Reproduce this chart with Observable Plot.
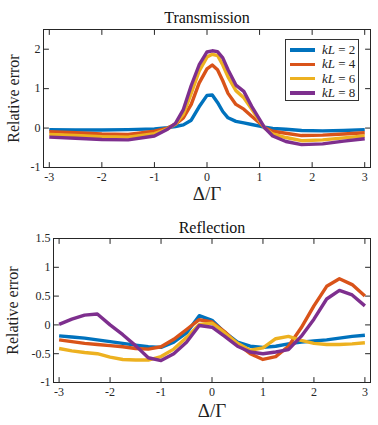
<!DOCTYPE html>
<html>
<head>
<meta charset="utf-8">
<script src="https://cdn.jsdelivr.net/npm/d3@7"></script>
<script src="https://cdn.jsdelivr.net/npm/@observablehq/plot@0.6"></script>
<style>
  body { margin: 0; background: #fff; }
  #wrap { position: relative; width: 378px; height: 425px; overflow: hidden; }
  #wrap svg { display: block; }
  #legend { position: absolute; left: 285px; top: 39px; width: 74px; height: 62px; border: 1px solid #333; background: #fff; box-sizing: border-box; }
  .row { position: absolute; left: 4px; height: 14px; display: flex; align-items: center; font-size: 13px; color: #222; }
  .sw { width: 25px; height: 3.5px; margin-right: 7px; }
  .row i { font-style: italic; }
</style>
</head>
<body>
<div id="wrap"></div>
<script>
const colors = ["#0072BD", "#D95319", "#EDB120", "#7E2F8E"];
const kL = [2, 4, 6, 8];

// Transmission panel
const xT = [-3, -2.5, -2, -1.5, -1, -0.75, -0.6, -0.45, -0.3, -0.15, 0, 0.1, 0.2, 0.3, 0.4, 0.55, 0.7, 0.85, 1, 1.1, 1.25, 1.5, 1.8, 2.2, 2.6, 3];
const transKL2 = [-0.04, -0.05, -0.05, -0.04, -0.02, 0.01, 0.04, 0.08, 0.2, 0.54, 0.83, 0.84, 0.65, 0.42, 0.26, 0.17, 0.13, 0.09, 0.05, 0.02, -0.01, -0.03, -0.06, -0.07, -0.06, -0.04];
const transKL4 = [-0.09, -0.12, -0.15, -0.16, -0.08, 0.0, 0.1, 0.26, 0.6, 1.14, 1.5, 1.6, 1.48, 1.2, 0.88, 0.6, 0.48, 0.3, 0.13, 0.01, -0.08, -0.13, -0.19, -0.18, -0.15, -0.12];
const transKL6 = [-0.16, -0.19, -0.22, -0.23, -0.14, -0.02, 0.1, 0.35, 0.88, 1.44, 1.8, 1.87, 1.84, 1.6, 1.3, 0.95, 0.77, 0.48, 0.18, 0.0, -0.15, -0.24, -0.32, -0.3, -0.25, -0.2];
const transKL8 = [-0.23, -0.26, -0.29, -0.3, -0.2, -0.03, 0.12, 0.47, 1.08, 1.6, 1.93, 1.96, 1.94, 1.78, 1.48, 1.09, 0.93, 0.55, 0.22, 0.0, -0.2, -0.34, -0.42, -0.4, -0.33, -0.27];

// Reflection panel
const xR = [-3, -2.75, -2.5, -2.25, -2, -1.75, -1.5, -1.25, -1, -0.75, -0.5, -0.25, 0, 0.25, 0.5, 0.75, 1, 1.25, 1.5, 1.75, 2, 2.25, 2.5, 2.75, 3];
const reflKL2 = [-0.19, -0.21, -0.23, -0.26, -0.29, -0.32, -0.35, -0.38, -0.39, -0.3, -0.14, 0.16, 0.08, -0.13, -0.3, -0.37, -0.39, -0.37, -0.33, -0.3, -0.28, -0.26, -0.23, -0.2, -0.18];
const reflKL4 = [-0.26, -0.29, -0.32, -0.34, -0.36, -0.38, -0.41, -0.42, -0.38, -0.25, -0.08, 0.09, 0.05, -0.12, -0.33, -0.5, -0.6, -0.55, -0.37, -0.05, 0.33, 0.67, 0.8, 0.7, 0.5];
const reflKL6 = [-0.41, -0.45, -0.48, -0.5, -0.56, -0.6, -0.61, -0.61, -0.55, -0.42, -0.22, 0.01, 0.03, -0.14, -0.32, -0.44, -0.4, -0.24, -0.2, -0.27, -0.32, -0.34, -0.34, -0.33, -0.31];
const reflKL8 = [0.01, 0.1, 0.17, 0.19, 0.0, -0.17, -0.36, -0.57, -0.62, -0.5, -0.3, -0.01, -0.04, -0.2, -0.37, -0.47, -0.5, -0.47, -0.43, -0.2, 0.1, 0.45, 0.6, 0.52, 0.33];

const xTicks = [-3, -2, -1, 0, 1, 2, 3];
const yTicksT = [-1, 0, 1, 2];
const yTicksR = [-1, -0.5, 0, 0.5, 1, 1.5];

function long(xs, series) {
  const rows = [];
  series.forEach((ys, i) => ys.forEach((y, j) => rows.push({x: xs[j], y, k: kL[i]})));
  return rows;
}

const tickShape = {draw(ctx, l) { ctx.moveTo(0, 0); ctx.lineTo(0, -l); }};
const axisColor = "#262626";
const FF = "'Liberation Serif', serif";

function panel({data, title, yDomain, yTicks, height, mt, mb, ml, titleDy, xlabDy, ylabDx}) {
  return Plot.plot({
    width: 378, height,
    marginTop: mt, marginBottom: mb, marginLeft: ml, marginRight: 8,
    x: {domain: [-3.11, 3.11]},
    y: {domain: yDomain},
    color: {domain: kL, range: colors},
    marks: [
      Plot.line(data, {x: "x", y: "y", z: "k", stroke: "k", strokeWidth: 3.4, strokeLinejoin: "round", strokeLinecap: "butt"}),
      Plot.frame({stroke: axisColor, strokeWidth: 1}),
      Plot.vector(xTicks, {x: d => d, frameAnchor: "bottom", length: 5, rotate: 0, anchor: "start", shape: tickShape, stroke: axisColor, strokeWidth: 1}),
      Plot.vector(xTicks, {x: d => d, frameAnchor: "top", length: 5, rotate: 180, anchor: "start", shape: tickShape, stroke: axisColor, strokeWidth: 1}),
      Plot.vector(yTicks, {y: d => d, frameAnchor: "left", length: 5, rotate: 90, anchor: "start", shape: tickShape, stroke: axisColor, strokeWidth: 1}),
      Plot.vector(yTicks, {y: d => d, frameAnchor: "right", length: 5, rotate: -90, anchor: "start", shape: tickShape, stroke: axisColor, strokeWidth: 1}),
      Plot.axisX(xTicks, {tickSize: 0, tickPadding: 5, fontSize: 12, tickFormat: d => String(d), label: null, fill: "#262626"}),
      Plot.axisY(yTicks, {tickSize: 0, tickPadding: 3, fontSize: 12, tickFormat: d => String(d), label: null, fill: "#262626"}),
      Plot.text([title], {frameAnchor: "top", dy: titleDy, lineAnchor: "middle", textAnchor: "middle", fontSize: 16, fill: "#111"}),
      Plot.text(["Δ/Γ"], {frameAnchor: "bottom", dy: xlabDy, lineAnchor: "middle", textAnchor: "middle", fontSize: 19, fill: "#222"}),
      Plot.text(["Relative error"], {frameAnchor: "left", dx: ylabDx, rotate: -90, lineAnchor: "middle", textAnchor: "middle", fontSize: 16, fill: "#222"})
    ]
  });
}

function serifize(svg) {
  svg.setAttribute("font-family", "Liberation Serif, serif");
  svg.style.setProperty("font-family", FF, "important");
  svg.querySelectorAll("g, text, tspan").forEach(el => {
    if (el.hasAttribute("font-family")) el.setAttribute("font-family", "Liberation Serif, serif");
    if (el.tagName === "text" || el.tagName === "tspan") el.style.setProperty("font-family", FF, "important");
  });
  return svg;
}

const wrap = document.getElementById("wrap");
const s1 = serifize(panel({
  data: long(xT, [transKL2, transKL4, transKL6, transKL8]),
  title: "Transmission", yDomain: [-1, 2.5], yTicks: yTicksT,
  height: 206, mt: 29, mb: 39, ml: 43, titleDy: -12, xlabDy: 26, ylabDx: -30
}));
const s2 = serifize(panel({
  data: long(xR, [reflKL2, reflKL4, reflKL6, reflKL8]),
  title: "Reflection", yDomain: [-1, 1.5], yTicks: yTicksR,
  height: 219, mt: 32, mb: 43, ml: 53, titleDy: -11, xlabDy: 28, ylabDx: -41
}));
wrap.append(s1, s2);

const legend = document.createElement("div");
legend.id = "legend";
legend.style.setProperty("font-family", FF, "important");
kL.forEach((k, i) => {
  const row = document.createElement("div");
  row.className = "row";
  row.style.top = (3 + i * 14.3) + "px";
  row.style.setProperty("font-family", FF, "important");
  const sw = document.createElement("span");
  sw.className = "sw";
  sw.style.background = colors[i];
  const label = document.createElement("span");
  label.innerHTML = "<i>kL</i> = " + k;
  row.append(sw, label);
  legend.append(row);
});
wrap.append(legend);
</script>
</body>
</html>
